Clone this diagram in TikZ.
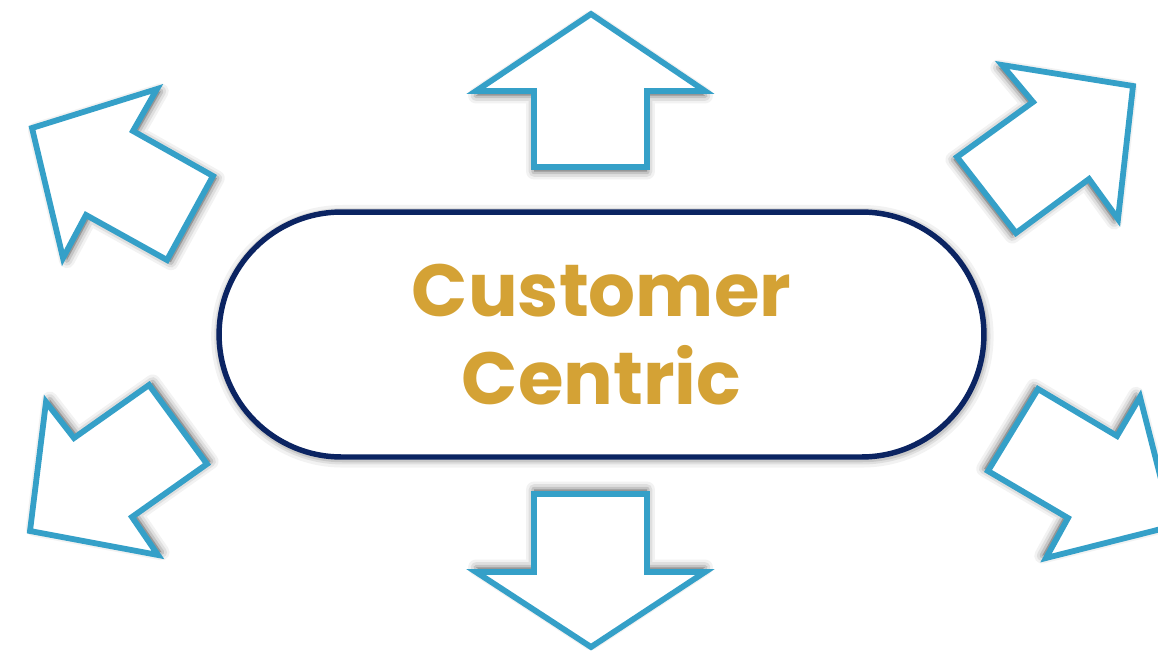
\documentclass[tikz,border=0pt]{standalone}
\usepackage{fontspec}
\newfontfamily\hubfont{Poppins}
\usetikzlibrary{shadows}
\definecolor{arrowblue}{HTML}{35A0C8}
\definecolor{hubnavy}{HTML}{0B2462}
\definecolor{hubgold}{HTML}{D4A235}

\begin{document}
\begin{tikzpicture}[
            x=0.02cm,y=-0.02cm,
            outarrow/.style 2 args={
                    draw=arrowblue,
                    fill=white,
                    line width=3.3pt,
                    line join=miter,
                    drop shadow={shadow xshift=#1,shadow yshift=#2,
                            fill=black,draw=black,line width=9pt,line join=round,opacity=0.05},
                    drop shadow={shadow xshift=#1,shadow yshift=#2,
                            fill=black,draw=black,line width=6pt,line join=round,opacity=0.08},
                    drop shadow={shadow xshift=#1,shadow yshift=#2,
                            fill=black,draw=black,line width=3pt,line join=round,opacity=0.12}
                },
            hub/.style={
                    draw=hubnavy,
                    fill=white,
                    line width=3.1pt,
                    rounded corners=2.45cm,
                    minimum width=15.3cm,
                    minimum height=4.9cm,
                    align=center,
                    text=hubgold,
                    font=\hubfont\bfseries\fontsize{42}{50}\selectfont,
                    drop shadow={shadow xshift=0.5pt,shadow yshift=-1pt,
                            fill=black,draw=black,line width=10pt,opacity=0.05},
                    drop shadow={shadow xshift=0.5pt,shadow yshift=-1pt,
                            fill=black,draw=black,line width=6.5pt,opacity=0.08},
                    drop shadow={shadow xshift=0.5pt,shadow yshift=-1pt,
                            fill=black,draw=black,line width=4pt,opacity=0.1}
                }
        ]
        \useasboundingbox (0,0) rectangle (1158,652);
        \clip (0,0) rectangle (1158,652);

        % up
        \draw[outarrow={0pt}{-2.6pt}] (591,14) -- (705,91) -- (647,91) -- (647,167)
        -- (534,167) -- (534,91) -- (476,91) -- cycle;
        % down
        \draw[outarrow={0pt}{2.6pt}] (591,647) -- (705,572) -- (647,572) -- (647,494)
        -- (534,494) -- (534,572) -- (476,572) -- cycle;
        % up left
        \draw[outarrow={2.2pt}{-1.3pt}] (32,128) -- (157,89) -- (133,131) -- (213,176)
        -- (167,260) -- (86,215) -- (63,258) -- cycle;
        % up right
        \draw[outarrow={-2.1pt}{-1.5pt}] (1133,86) -- (1002,65) -- (1033,102) -- (957,157)
        -- (1016,233) -- (1089,179) -- (1118,219) -- cycle;
        % down left
        \draw[outarrow={2.1pt}{1.5pt}] (30,531) -- (46,402) -- (74,438) -- (149,385)
        -- (207,464) -- (132,517) -- (158,555) -- cycle;
        % down right
        \draw[outarrow={-2.2pt}{1.3pt}] (1173,526) -- (1140,397) -- (1117,436) -- (1038,389)
        -- (988,471) -- (1068,518) -- (1046,558) -- cycle;

        \node[hub] (centric) at (601.5,334.5) {Customer\\Centric};
    \end{tikzpicture}
\end{document}
